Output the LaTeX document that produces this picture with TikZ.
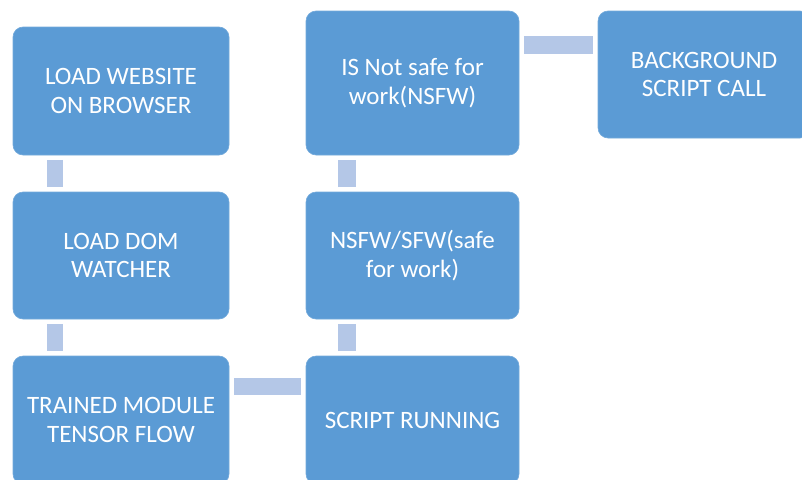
\documentclass[tikz,border=0pt]{standalone}
\usepackage{fontspec}
\setmainfont{Carlito}
\definecolor{boxblue}{HTML}{5B9BD5}
\definecolor{connblue}{HTML}{B4C7E7}
\begin{document}
\begin{tikzpicture}[x=1pt,y=-1pt,
  stepbox/.style={rectangle, rounded corners=10pt, fill=boxblue, draw=boxblue!85!white, line width=0.6pt,
    inner sep=0pt, align=center, text=white, font=\fontsize{25}{28.5}\selectfont},
  conn/.style={draw=connblue, line width=17pt, shorten <=4.5pt, shorten >=4.5pt}]
\useasboundingbox (0,0) rectangle (802,479);
\clip (0,0) rectangle (802,479);
\node[stepbox, minimum width=216pt, minimum height=128pt] (a) at (121,91) {LOAD WEBSITE\\ON BROWSER};
\node[stepbox, minimum width=216pt, minimum height=127pt] (b) at (121,255.5) {LOAD DOM\\WATCHER};
\node[stepbox, minimum width=216pt, minimum height=128pt] (c) at (121,420) {TRAINED MODULE\\TENSOR FLOW};
\node[stepbox, minimum width=213pt, minimum height=128pt] (d) at (412.5,420) {SCRIPT RUNNING};
\node[stepbox, minimum width=213pt, minimum height=127pt] (e) at (412.5,255.5) {NSFW/SFW(safe\\for work)};
\node[stepbox, minimum width=213pt, minimum height=144pt] (f) at (412.5,83) {IS Not safe for\\work(NSFW)};
\node[stepbox, minimum width=212pt, minimum height=127pt] (g) at (704,74.5) {BACKGROUND\\SCRIPT CALL};
\draw[conn, line width=16pt] ([xshift=-66pt]a.south) -- ([xshift=-66pt]b.north);
\draw[conn, line width=16pt] ([xshift=-66pt]b.south) -- ([xshift=-66pt]c.north);
\draw[conn] ([yshift=33.5pt]c.east) -- ([yshift=33.5pt]d.west);
\draw[conn, line width=18pt] ([xshift=-66pt]d.north) -- ([xshift=-66pt]e.south);
\draw[conn, line width=18pt] ([xshift=-66pt]e.north) -- ([xshift=-66pt]f.south);
\draw[conn, line width=18pt] ([yshift=38.5pt]f.east) -- ([yshift=38.5pt]f.east -| g.west);
\end{tikzpicture}
\end{document}
